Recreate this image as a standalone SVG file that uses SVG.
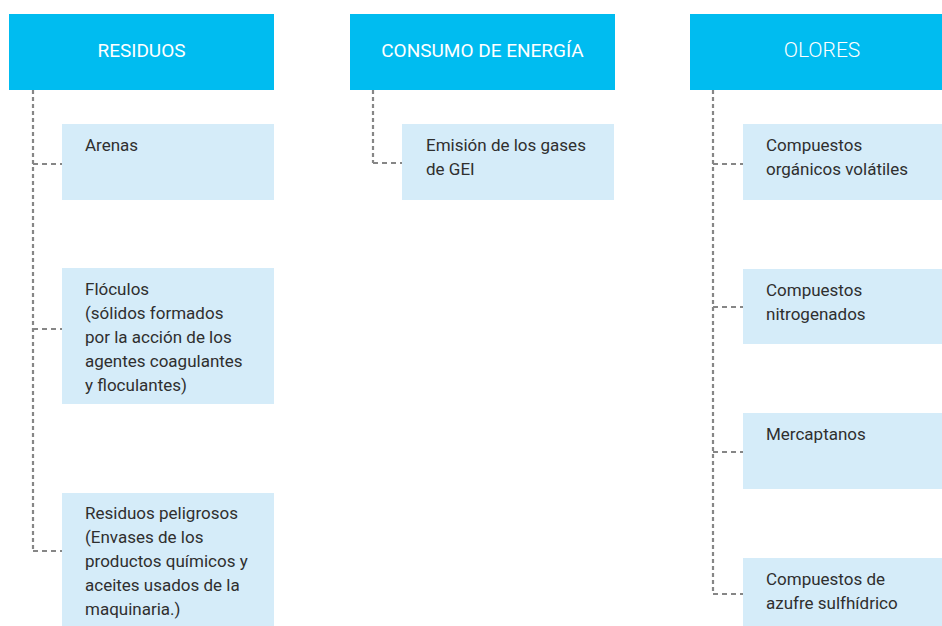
<svg xmlns="http://www.w3.org/2000/svg" width="942" height="626" viewBox="0 0 942 626">
<style>
.hdr{fill:#00bcf0}
.box{fill:#d5ecf9}
.ht{font-family:Roboto,"Liberation Sans",sans-serif;font-size:19px;fill:#ffffff;text-anchor:middle;font-weight:400}
.ht.light{font-weight:300;font-size:21px}
.t{font-family:Roboto,"Liberation Sans",sans-serif;font-size:17px;fill:#2f2f2f}
.v{stroke:#868686;stroke-width:2.2;fill:none;stroke-dasharray:4 3}
.h{stroke:#868686;stroke-width:2.2;fill:none;stroke-dasharray:5 4}
</style>
<rect width="942" height="626" fill="#ffffff"/>
<g id="connectors">
<path class="v" d="M33 90 V551"/>
<path class="h" d="M33 164 H62 M33 329 H62 M33 551 H62"/>
<path class="v" d="M373 90 V163"/>
<path class="h" d="M373 163 H402"/>
<path class="v" d="M713 90 V594"/>
<path class="h" d="M713 164 H743 M713 307 H743 M713 452 H743 M713 594 H743"/>
</g>
<g id="residuos">
<rect class="hdr" x="9" y="14" width="265" height="76"/>
<text class="ht" x="141.5" y="57">RESIDUOS</text>
</g>
<g id="energia">
<rect class="hdr" x="350" y="14" width="265" height="76"/>
<text class="ht" x="482.5" y="57">CONSUMO DE ENERGÍA</text>
</g>
<g id="olores">
<rect class="hdr" x="690" y="14" width="265" height="76"/>
<text class="ht light" x="822" y="57">OLORES</text>
</g>
<g id="arenas">
<rect class="box" x="62" y="124" width="212" height="76"/>
<text class="t" x="85" y="151">Arenas</text>
</g>
<g id="floculos">
<rect class="box" x="62" y="268" width="212" height="136"/>
<text class="t" x="85" y="295">Flóculos</text>
<text class="t" x="85" y="319">(sólidos formados</text>
<text class="t" x="85" y="343">por la acción de los</text>
<text class="t" x="85" y="367">agentes coagulantes</text>
<text class="t" x="85" y="391">y floculantes)</text>
</g>
<g id="peligrosos">
<rect class="box" x="62" y="493" width="212" height="133"/>
<text class="t" x="85" y="519">Residuos peligrosos</text>
<text class="t" x="85" y="543">(Envases de los</text>
<text class="t" x="85" y="567">productos químicos y</text>
<text class="t" x="85" y="591">aceites usados de la</text>
<text class="t" x="85" y="615">maquinaria.)</text>
</g>
<g id="emision">
<rect class="box" x="402" y="124" width="212" height="76"/>
<text class="t" x="426" y="151">Emisión de los gases</text>
<text class="t" x="426" y="175">de GEI</text>
</g>
<g id="voc">
<rect class="box" x="743" y="124" width="199" height="76"/>
<text class="t" x="766" y="151">Compuestos</text>
<text class="t" x="766" y="175">orgánicos volátiles</text>
</g>
<g id="nitrogenados">
<rect class="box" x="743" y="269" width="199" height="75"/>
<text class="t" x="766" y="296">Compuestos</text>
<text class="t" x="766" y="320">nitrogenados</text>
</g>
<g id="mercaptanos">
<rect class="box" x="743" y="413" width="199" height="76"/>
<text class="t" x="766" y="440">Mercaptanos</text>
</g>
<g id="azufre">
<rect class="box" x="743" y="558" width="199" height="68"/>
<text class="t" x="766" y="585">Compuestos de</text>
<text class="t" x="766" y="609">azufre sulfhídrico</text>
</g>
</svg>
